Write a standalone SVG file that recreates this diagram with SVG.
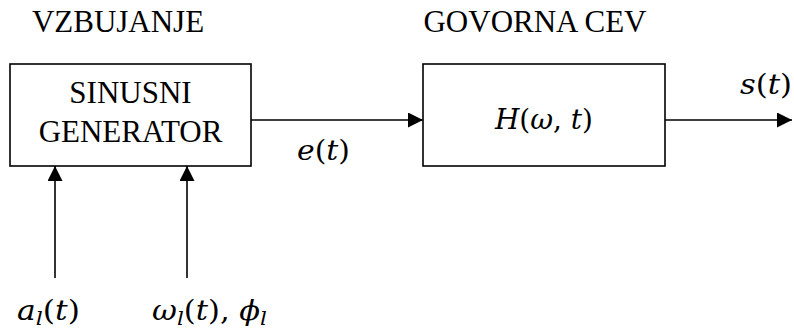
<svg xmlns="http://www.w3.org/2000/svg" width="794" height="331" viewBox="0 0 794 331">
<defs>
<marker id="ah" viewBox="0 0 15 15" refX="15" refY="7.5" markerWidth="15" markerHeight="15" markerUnits="userSpaceOnUse" orient="auto">
<path d="M0,0 L15,7.5 L0,15 Z" fill="#000"/>
</marker>
</defs>
<g font-family="Liberation Serif" font-size="31" fill="#000" text-anchor="middle">
<text x="118" y="32">VZBUJANJE</text>
<text x="535" y="32">GOVORNA CEV</text>
</g>
<g id="generator">
<rect x="10" y="64" width="241" height="102" fill="#fff" stroke="#000" stroke-width="1.6"/>
<text font-family="Liberation Serif" font-size="31" x="130.5" y="103" text-anchor="middle">SINUSNI</text>
<text font-family="Liberation Serif" font-size="31" x="130.5" y="142" text-anchor="middle">GENERATOR</text>
</g>
<g id="tract">
<rect x="423" y="64" width="242" height="102" fill="#fff" stroke="#000" stroke-width="1.6"/>
<text font-family="DejaVu Serif" font-size="27" x="495" y="129" textLength="98" lengthAdjust="spacingAndGlyphs"><tspan font-style="italic">H</tspan>(<tspan font-style="italic">ω</tspan>, <tspan font-style="italic">t</tspan>)</text>
</g>
<g id="connectors" stroke="#000" stroke-width="1.6" fill="none">
<line x1="251" y1="120" x2="423" y2="120" marker-end="url(#ah)"/>
<line x1="665" y1="120" x2="792" y2="120" marker-end="url(#ah)"/>
<line x1="55" y1="278" x2="55" y2="166" marker-end="url(#ah)"/>
<line x1="187" y1="278" x2="187" y2="166" marker-end="url(#ah)"/>
</g>
<g font-family="DejaVu Serif" font-size="27" fill="#000">
<text x="297" y="160" textLength="53" lengthAdjust="spacingAndGlyphs"><tspan font-style="italic">e</tspan>(<tspan font-style="italic">t</tspan>)</text>
<text x="740" y="94" textLength="52" lengthAdjust="spacingAndGlyphs"><tspan font-style="italic">s</tspan>(<tspan font-style="italic">t</tspan>)</text>
<text x="17" y="320" textLength="63" lengthAdjust="spacingAndGlyphs"><tspan font-style="italic">a</tspan><tspan font-style="italic" font-size="19" dy="5">l</tspan><tspan dy="-5">(</tspan><tspan font-style="italic">t</tspan>)</text>
<text x="152" y="320" textLength="115" lengthAdjust="spacingAndGlyphs"><tspan font-style="italic">ω</tspan><tspan font-style="italic" font-size="19" dy="5">l</tspan><tspan dy="-5">(</tspan><tspan font-style="italic">t</tspan>), <tspan font-style="italic">ϕ</tspan><tspan font-style="italic" font-size="19" dy="5">l</tspan></text>
</g>
</svg>
